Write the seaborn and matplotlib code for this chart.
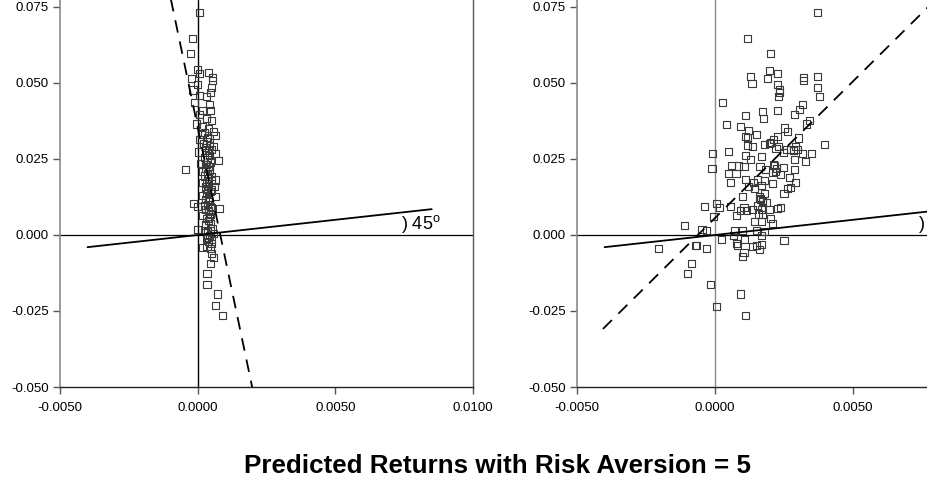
import numpy as np
import pandas as pd
import matplotlib
matplotlib.use("Agg")
import matplotlib.pyplot as plt
import seaborn as sns

# ---------------- data ----------------
title_text = "Predicted Returns with Risk Aversion = 5"
y_ticks = [-0.050, -0.025, 0.000, 0.025, 0.050, 0.075]
x_ticks_left = [-0.0050, 0.0000, 0.0050, 0.0100]
x_ticks_right = [-0.0050, 0.0000, 0.0050]

left_x = [0.00007, -0.00019, -0.00027, 0.0, 0.00007, 0.00039, 0.00053, 0.00053, -0.00024, 0.0,
          0.00051, 0.00048, -0.00017, 0.00005, 0.00032, 0.00044, -0.0001, 0.00046, 0.00019, 0.00005,
          0.00032, 0.00051, -0.00005, 0.00019, 0.00041, 0.00058, 0.00015, 0.00036, 0.00063, 0.00005,
          0.00022, 0.00044, 0.00058, 0.00002, 0.00034, 0.00065, 0.00075, -0.00044, 0.0001, 0.00027,
          0.00044, 0.00017, 0.00036, 0.00051, 0.00063, 0.00019, 0.00039, 0.00061, 0.00027, 0.00051,
          0.00065, 0.00017, 0.00039, -0.00015, 0.0, 0.00024, 0.00051, 0.0008, 0.00039, 0.00019,
          0.00044, 0.00048, 0.0, 0.00029, 0.00048, 0.00058, 0.00036, 0.00051, 0.00019, 0.00034,
          0.00046, 0.00051, 0.00056, 0.00046, 0.00034, 0.00034, 0.00073, 0.00065, 0.0009,
          # denser core
          0.00030, 0.00038, 0.00042, 0.00026, 0.00035, 0.00047, 0.00031, 0.00040, 0.00028, 0.00044,
          0.00036, 0.00025, 0.00041, 0.00049, 0.00033, 0.00029, 0.00037, 0.00045, 0.00032, 0.00039,
          0.00027, 0.00043, 0.00035, 0.00048, 0.00030, 0.00038, 0.00046, 0.00034, 0.00041, 0.00028,
          0.00052, 0.00036, 0.00044, 0.00031, 0.00040, 0.00049, 0.00033, 0.00042, 0.00026, 0.00050]
left_y = [0.0731, 0.0646, 0.0598, 0.0543, 0.0532, 0.0534, 0.0519, 0.0508, 0.0514, 0.0495,
          0.0486, 0.0470, 0.0477, 0.0459, 0.0455, 0.0429, 0.0435, 0.0411, 0.0409, 0.0396,
          0.0383, 0.0378, 0.0365, 0.0356, 0.0350, 0.0341, 0.0330, 0.0321, 0.0326, 0.0313,
          0.0302, 0.0295, 0.0291, 0.0273, 0.0271, 0.0269, 0.0245, 0.0216, 0.0236, 0.0231,
          0.0225, 0.0209, 0.0203, 0.0192, 0.0181, 0.0172, 0.0163, 0.0159, 0.0152, 0.0148,
          0.0128, 0.0130, 0.0117, 0.0104, 0.0093, 0.0098, 0.0091, 0.0087, 0.0080, 0.0065,
          0.0060, 0.0038, 0.0019, 0.0016, 0.0014, 0.0005, -0.0008, -0.0014, -0.0041, -0.0038,
          -0.0045, -0.0060, -0.0073, -0.0095, -0.0128, -0.0163, -0.0194, -0.0231, -0.0264,
          0.0288, 0.0279, 0.0262, 0.0255, 0.0248, 0.0240, 0.0232, 0.0224, 0.0218, 0.0211,
          0.0199, 0.0194, 0.0186, 0.0178, 0.0169, 0.0160, 0.0150, 0.0142, 0.0135, 0.0124,
          0.0118, 0.0110, 0.0101, 0.0093, 0.0085, 0.0076, 0.0068, 0.0055, 0.0047, 0.0033,
          0.0020, 0.0011, -0.0003, -0.0011, -0.0020, -0.0027, 0.0306, 0.0316, 0.0337, 0.0280]

right_x = [0.00371, 0.00117, 0.00202, 0.00199, 0.00228, 0.00129, 0.0019, 0.00134, 0.00226, 0.00233,
           0.00233, 0.00231, 0.00322, 0.00322, 0.00373, 0.00373, 0.0038, 0.00028, 0.00228, 0.00173,
           0.00318, 0.00306, 0.00289, 0.00175, 0.00112, 0.00342, 0.00332, 0.00042, 0.00093, 0.00252,
           0.00122, 0.00264, 0.00149, 0.00112, 0.00117, 0.00228, 0.00211, 0.00301, 0.00397, 0.00117,
           0.00136, 0.00178, 0.00202, 0.00221, 0.00293, 0.00298, 0.0026, 0.00284, 0.00272, 0.00248,
           0.00318, 0.00349, -0.00008, 0.0005, 0.00112, 0.00168, 0.00129, 0.00289, 0.00327, 0.00059,
           0.00086, 0.00105, 0.00163, 0.00216, 0.00248, -0.00011, 0.00289, 0.0005, 0.00076, 0.0011,
           0.00238, 0.00209, 0.00182, 0.00139, 0.00057, 0.00153, 0.00207, 0.00269, 0.00291, 0.00122,
           0.00144, 0.00168, 0.00178, 0.0025, 0.00264, 0.00274, 0.001, 0.00165, 0.00173, 0.00187,
           0.00006, -0.00037, 0.00016, 0.00057, 0.00105, 0.00115, 0.00136, 0.00091, 0.0017, 0.00199,
           0.00228, 0.00238, 0.00079, 0.00156, 0.00173, -0.00006, 0.00202, 0.00144, 0.00209, 0.0017,
           -0.0011, -0.00047, -0.0003, 0.00071, 0.001, 0.00149, 0.00178, 0.00168, 0.00066, 0.00023,
           0.00107, 0.0025, 0.00079, 0.00083, 0.00136, 0.00151, 0.00168, 0.00161, -0.00071, -0.00066,
           -0.0003, -0.00204, 0.00105, 0.001, -0.00086, -0.00098, -0.00016, 0.00093, 0.00004, 0.0011,
           # denser core
           0.00165, 0.00172, 0.00160, 0.00218, 0.00224, 0.00212, 0.00178, 0.00155, 0.00230, 0.00196]
right_y = [0.0731, 0.0646, 0.0598, 0.0541, 0.0530, 0.0521, 0.0514, 0.0499, 0.0495, 0.0477,
           0.0468, 0.0457, 0.0519, 0.0508, 0.0521, 0.0484, 0.0455, 0.0435, 0.0409, 0.0405,
           0.0429, 0.0413, 0.0396, 0.0383, 0.0394, 0.0376, 0.0365, 0.0363, 0.0356, 0.0352,
           0.0343, 0.0339, 0.0330, 0.0323, 0.0321, 0.0323, 0.0315, 0.0319, 0.0297, 0.0295,
           0.0291, 0.0297, 0.0304, 0.0286, 0.0291, 0.0280, 0.0280, 0.0277, 0.0280, 0.0271,
           0.0269, 0.0269, 0.0269, 0.0275, 0.0260, 0.0258, 0.0249, 0.0247, 0.0242, 0.0229,
           0.0227, 0.0225, 0.0225, 0.0229, 0.0223, 0.0218, 0.0216, 0.0201, 0.0203, 0.0183,
           0.0198, 0.0207, 0.0216, 0.0174, 0.0172, 0.0181, 0.0168, 0.0190, 0.0172, 0.0159,
           0.0152, 0.0163, 0.0137, 0.0137, 0.0152, 0.0157, 0.0126, 0.0117, 0.0111, 0.0106,
           0.0104, 0.0093, 0.0091, 0.0095, 0.0091, 0.0082, 0.0084, 0.0082, 0.0084, 0.0084,
           0.0087, 0.0089, 0.0065, 0.0069, 0.0067, 0.0060, 0.0054, 0.0043, 0.0038, 0.0045,
           0.0032, 0.0019, 0.0016, 0.0016, 0.0016, 0.0016, 0.0010, -0.0003, -0.0001, -0.0014,
           -0.0016, -0.0019, -0.0027, -0.0034, -0.0038, -0.0036, -0.0030, -0.0047, -0.0036, -0.0034,
           -0.0045, -0.0043, -0.0058, -0.0071, -0.0095, -0.0128, -0.0163, -0.0194, -0.0234, -0.0266,
           0.0120, 0.0112, 0.0125, 0.0210, 0.0220, 0.0232, 0.0178, 0.0098, 0.0290, 0.0300]

# fitted regression lines (intercept, slope) and their x extents
left_fit = (0.0355, -43.2)
left_fit_x = [-0.0012, 0.0025]
right_fit = (0.0056, 8.99)
right_fit_x = [-0.00406, 0.0085]
# 45-degree reference line extent
diag_x = [-0.0040, 0.0085]
angle_label_left = r") 45$^{\mathrm{o}}$"
angle_label_right = ")"

# ---------------- style ----------------
sns.set_theme(style="white")
plt.rcParams["font.family"] = ["Liberation Sans", "DejaVu Sans"]
plt.rcParams["mathtext.fontset"] = "custom"
plt.rcParams["mathtext.rm"] = "Liberation Sans"

W, H = 928, 487
fig = plt.figure(figsize=(W / 100, H / 100), dpi=100)

bottom = 1 - 387 / H
height = 387 / H
ax1 = fig.add_axes([60 / W, bottom, 413 / W, height])
ax2 = fig.add_axes([577 / W, bottom, 414 / W, height])

ymin, ymax = -0.050, 0.0773
xmin, xmax = -0.0050, 0.0100

panels = [
    (ax1, left_x, left_y, left_fit, left_fit_x, "black", True, x_ticks_left, angle_label_left),
    (ax2, right_x, right_y, right_fit, right_fit_x, "#8a8a8a", False, x_ticks_right, angle_label_right),
]

for ax, xs, ys, fit, fx, vcol, show_right, xt, lab in panels:
    ax.set_xlim(xmin, xmax)
    ax.set_ylim(ymin, ymax)
    ax.axhline(0, color="black", lw=0.9, zorder=1)
    ax.axvline(0, color=vcol, lw=1.0, zorder=1)

    sns.scatterplot(x=xs, y=ys, ax=ax, marker="s", s=26, facecolor="none",
                    edgecolor="#3a3a3a", linewidth=0.8, zorder=3, legend=False)

    dx = np.array(diag_x)
    sns.lineplot(x=dx, y=dx, ax=ax, color="black", lw=1.3, zorder=4,
                 legend=False, estimator=None, sort=False)

    fxa = np.array(fx)
    fya = fit[0] + fit[1] * fxa
    sns.lineplot(x=fxa, y=fya, ax=ax, color="black", lw=1.3, zorder=4,
                 linestyle=(0, (7, 5)), legend=False, estimator=None, sort=False)

    ax.text(0.0074, 0.0036, lab, fontsize=13, va="center", ha="left",
            color="black", clip_on=False)

    ax.set_xticks(xt)
    ax.set_xticklabels([f"{v:.4f}" for v in xt])
    ax.set_yticks(y_ticks)
    ax.set_yticklabels([f"{v:.3f}" for v in y_ticks])
    ax.tick_params(axis="both", which="both", direction="out", length=5, width=1,
                   color="#555555", labelsize=9.5, labelcolor="black",
                   bottom=True, left=True, top=False, right=False, pad=3)
    ax.tick_params(axis="x", pad=6)

    ax.spines["top"].set_visible(False)
    ax.spines["left"].set_color("#8a8a8a")
    ax.spines["left"].set_linewidth(1.2)
    ax.spines["bottom"].set_color("#222222")
    ax.spines["bottom"].set_linewidth(1.0)
    ax.spines["right"].set_visible(show_right)
    ax.spines["right"].set_color("#555555")
    ax.spines["right"].set_linewidth(1.0)
    ax.set_xlabel("")
    ax.set_ylabel("")
    ax.patch.set_alpha(0)

fig.text(498 / W, 1 - 466 / H, title_text, ha="center", va="center",
         fontsize=18.7, fontweight="bold", color="black")

fig.savefig("out.png", dpi=100)
